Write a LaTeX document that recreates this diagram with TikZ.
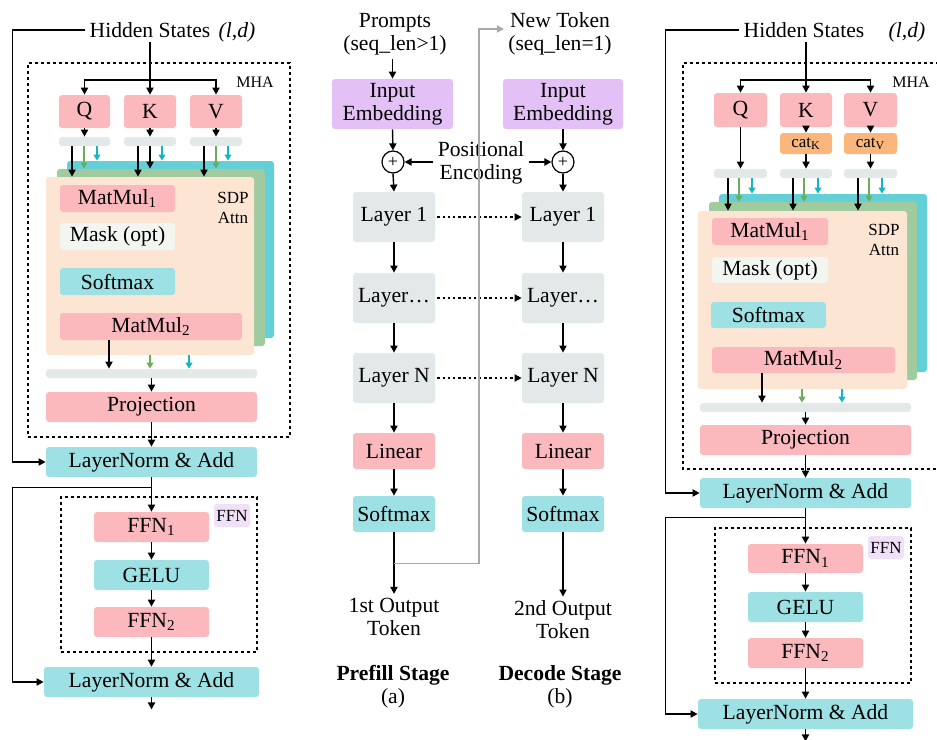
\documentclass[tikz,border=0pt]{standalone}
\usepackage{fontspec}
\setmainfont{Liberation Serif}
\usetikzlibrary{arrows.meta,calc}

\definecolor{cpink}{HTML}{FBB9BE}
\definecolor{ccyan}{HTML}{9DE1E4}
\definecolor{cgray}{HTML}{E3E9E8}
\definecolor{cpurple}{HTML}{E3C0F5}
\definecolor{cpeach}{HTML}{FDE5D3}
\definecolor{cteal}{HTML}{62D0D6}
\definecolor{cgreen}{HTML}{A0CB9E}
\definecolor{corange}{HTML}{FBB77B}
\definecolor{clilac}{HTML}{F0E0F8}
\definecolor{cmask}{HTML}{F2F5F0}
\definecolor{garrow}{HTML}{6AAE5A}
\definecolor{carrow}{HTML}{12B5C4}
\definecolor{fbgray}{HTML}{A9A9A9}

\tikzset{
  % a rectangle given by its two corners (in picture units)
  span/.style n args={4}{at={({(#1+#3)/2},{(#2+#4)/2})},
     minimum width={(#3-#1)*0.5pt}, minimum height={(#4-#2)*0.5pt}},
  bx/.style={rectangle, rounded corners=1.5pt, inner sep=0pt, draw=none, align=center},
  pinkbox/.style={bx, fill=cpink},
  cyanbox/.style={bx, fill=ccyan},
  graybox/.style={bx, fill=cgray},
  purplebox/.style={bx, fill=cpurple},
  maskbox/.style={bx, fill=cmask},
  catbox/.style={bx, fill=corange, font=\fontsize{8.5}{9}\selectfont},
  layerbox/.style={bx, fill=#1},
  dotbox/.style={rectangle, draw, line width=1pt, dash pattern=on 1.6pt off 1.4pt, inner sep=0pt},
  small/.style={font=\fontsize{8}{10}\selectfont, align=center},
  txt/.style={align=center, inner sep=2pt},
  arr/.style={-{Triangle[length=3.5pt,width=3.6pt]}, line width=0.7pt},
  line/.style={line width=0.7pt},
  garr/.style={-{Triangle[length=3pt,width=3.4pt]}, line width=0.6pt, draw=garrow},
  carr/.style={-{Triangle[length=3pt,width=3.4pt]}, line width=0.6pt, draw=carrow},
  dotarr/.style={-{Triangle[length=3.5pt,width=3.6pt]}, line width=0.6pt, dash pattern=on 1.2pt off 1.4pt},
  fbarr/.style={-{Triangle[length=3.5pt,width=3.6pt]}, line width=0.6pt, draw=fbgray},
  plus/.style={circle, draw, line width=0.6pt, fill=white, minimum size=11pt, inner sep=0pt, font=\fontsize{9}{9}\selectfont},
}

\begin{document}
\begin{tikzpicture}[x=0.5pt, y=-0.5pt, font=\fontsize{10.8}{11.5}\selectfont]
\useasboundingbox (0,0) rectangle (937,739);

%% ===================== left block: decoder layer (prefill) =====================
\node[txt] (hs) at (150,30) {Hidden States};
\node[txt] (ld) at (237,32) {\textit{(l,d)}};
\node[dotbox, span={28}{63}{290}{437}] (mha) {};
\node[small] (mhal) at (255,82) {MHA};
\coordinate (br) at (150,80);

\node[pinkbox, span={59}{95}{110}{128}] (q) {Q};
\node[pinkbox, span={124}{95}{176}{128}] (k) {K};
\node[pinkbox, span={190}{95}{242}{128}] (v) {V};
\node[graybox, span={59}{137}{110}{146}] (qb) {};
\node[graybox, span={124}{137}{176}{146}] (kb) {};
\node[graybox, span={190}{137}{242}{146}] (vb) {};

\node[layerbox=cteal, span={67}{161}{274}{338}] (cy) {};
\node[layerbox=cgreen, span={57}{169}{265}{346}] (gr) {};
\node[layerbox=cpeach, span={46}{177}{254}{355}] (pc) {};
\node[small, font=\fontsize{8.5}{10}\selectfont] (sdp) at (233,208) {SDP\\Attn};
\node[pinkbox, span={60}{185}{175}{212}] (mm1) {MatMul\textsubscript{1}};
\node[maskbox, span={60}{223}{175}{250}] (mask) {Mask (opt)};
\node[cyanbox, span={60}{268}{175}{295}] (sm) {Softmax};
\node[pinkbox, span={60}{313}{242}{340}] (mm2) {MatMul\textsubscript{2}};

\node[graybox, span={46}{369}{257}{378}] (ob) {};
\node[pinkbox, span={46}{392}{257}{422}] (proj) {Projection};
\node[cyanbox, span={46}{447}{257}{477}] (ln1) {LayerNorm \& Add};

\node[dotbox, span={61}{497}{257}{652}] (ffnbox) {};
\node[bx, fill=clilac, span={214}{504}{250}{527}, font=\fontsize{8.5}{10}\selectfont] (ffnl) {FFN};
\node[pinkbox, span={94}{512}{209}{542}] (f1) {FFN\textsubscript{1}};
\node[cyanbox, span={94}{560}{209}{590}] (gelu) {GELU};
\node[pinkbox, span={94}{607}{209}{637}] (f2) {FFN\textsubscript{2}};
\node[cyanbox, span={44}{667}{259}{697}] (ln2) {LayerNorm \& Add};

% connectors
\draw[line] (hs.south) -- (br);
\draw[arr] (br) -| (q.north);
\draw[arr] (br) -- (k.north);
\draw[arr] (br) -| (v.north);
\draw[arr] (q.south) -- (qb.north);
\draw[arr] (k.south) -- (kb.north);
\draw[arr] (v.south) -- (vb.north);

\draw[arr]  (qb.south -| 72,0)  -- (pc.north -| 72,0);
\draw[garr] (qb.south -| 84,0)  -- (gr.north -| 84,0);
\draw[carr] (qb.south -| 97,0)  -- (cy.north -| 97,0);
\draw[arr]  (kb.south -| 138,0) -- (pc.north -| 138,0);
\draw[arr]  (kb.south -| 150,0) -- (gr.north -| 150,0);
\draw[carr] (kb.south -| 162,0) -- (cy.north -| 162,0);
\draw[arr]  (vb.south -| 204,0) -- (pc.north -| 204,0);
\draw[garr] (vb.south -| 216,0) -- (gr.north -| 216,0);
\draw[carr] (vb.south -| 228,0) -- (cy.north -| 228,0);

\draw[arr]  (mm2.south -| 109,0) -- (ob.north -| 109,0);
\draw[garr] (pc.south -| 150,0)  -- (ob.north -| 150,0);
\draw[carr] (pc.south -| 189,0)  -- (ob.north -| 189,0);
\draw[arr] (ob.south -| proj.north) -- (proj.north);
\draw[arr] (proj.south) -- (ln1.north);
\draw[arr] (ln1.south) -- (f1.north);
\draw[arr] (f1.south) -- (gelu.north);
\draw[arr] (gelu.south) -- (f2.north);
\draw[arr] (f2.south) -- (ln2.north);
\draw[arr] (ln2.south) -- ++(0,12);
\draw[arr] (hs.west) -| ($(ln1.west)+(-33,0)$) -- (ln1.west);
\draw[arr] ($(ln1.south)+(0,10)$) -| ($(ln2.west)+(-31,0)$) -- (ln2.west);

%% ===================== middle: prefill and decode stages =====================
\node[txt] (pr) at (395,34) {Prompts\\(seq\_len>1)};
\node[txt] (nt) at (560,34) {New Token\\(seq\_len=1)};
\node[purplebox, span={332}{79}{453}{129}] (emb1) {Input\\Embedding};
\node[purplebox, span={503}{79}{623}{129}] (emb2) {Input\\Embedding};
\node[plus] (pe1) at (393,162) {+};
\node[plus] (pe2) at (563,162) {+};
\node[txt] (pos) at (481,163) {Positional\\Encoding};

\node[graybox, span={353}{192}{435}{242}] (l1a) {Layer 1};
\node[graybox, span={353}{273}{435}{323}] (lda) {Layer\dots};
\node[graybox, span={353}{353}{435}{403}] (lna) {Layer N};
\node[pinkbox, span={353}{433}{435}{469}] (lia) {Linear};
\node[cyanbox, span={353}{496}{435}{532}] (sxa) {Softmax};
\node[graybox, span={522}{192}{604}{242}] (l1b) {Layer 1};
\node[graybox, span={522}{273}{604}{323}] (ldb) {Layer\dots};
\node[graybox, span={522}{353}{604}{403}] (lnb) {Layer N};
\node[pinkbox, span={522}{433}{604}{469}] (lib) {Linear};
\node[cyanbox, span={522}{496}{604}{532}] (sxb) {Softmax};

\node[txt] (o1) at (394,617) {1st Output\\Token};
\node[txt] (o2) at (563,620) {2nd Output\\Token};
\node[txt] (sa) at (393,687) {\textbf{Prefill Stage}\\(a)};
\node[txt] (sb) at (560,687) {\textbf{Decode Stage}\\(b)};

\draw[arr] (pr.south -| emb1.north) -- (emb1.north);
\draw[arr] (emb1.south) -- (pe1.north);
\draw[arr] (emb2.south) -- (pe2.north);
\draw[arr] (pe1.south) -- (l1a.north);
\draw[arr] (pe2.south) -- (l1b.north);
\draw[arr] (pos.west |- pe1.east) -- (pe1.east);
\draw[arr] (pos.east |- pe2.west) -- (pe2.west);
\draw[arr] (l1a.south) -- (lda.north);
\draw[arr] (lda.south) -- (lna.north);
\draw[arr] (lna.south) -- (lia.north);
\draw[arr] (lia.south) -- (sxa.north);
\draw[arr] (sxa.south) -- (o1.north);
\draw[arr] (l1b.south) -- (ldb.north);
\draw[arr] (ldb.south) -- (lnb.north);
\draw[arr] (lnb.south) -- (lib.north);
\draw[arr] (lib.south) -- (sxb.north);
\draw[arr] (sxb.south) -- (o2.north);
\draw[dotarr] ([xshift=1pt]l1a.east) -- (l1b.west);
\draw[dotarr] ([xshift=1pt]lda.east) -- (ldb.west);
\draw[dotarr] ([xshift=1pt]lna.east) -- (lnb.west);
\coordinate (fb) at ($(sxa.south)+(0,31)$);
\draw[fbarr] (fb) -| ($(nt.west)+(-25,-5)$) -- ($(nt.west)+(0,-5)$);

%% ===================== right block: decoder layer with KV cache =====================
\node[txt] (hs2) at (804,30) {Hidden States};
\node[txt] (ld2) at (907,32) {\textit{(l,d)}};
\draw[line width=1pt, dash pattern=on 1.6pt off 1.4pt] (945,63) -- (683,63) -- (683,469) -- (945,469);
\node[small] (mhal2) at (911,82) {MHA};
\coordinate (br2) at (806,80);

\node[pinkbox, span={714}{93}{767}{127}] (q2) {Q};
\node[pinkbox, span={780}{93}{832}{127}] (k2) {K};
\node[pinkbox, span={844}{93}{897}{127}] (v2) {V};
\node[catbox, span={780}{133}{832}{154}] (ck) {cat\textsubscript{K}};
\node[catbox, span={844}{133}{897}{154}] (cv) {cat\textsubscript{V}};
\node[graybox, span={714}{169}{767}{178}] (qb2) {};
\node[graybox, span={780}{169}{832}{178}] (kb2) {};
\node[graybox, span={844}{169}{897}{178}] (vb2) {};

\node[layerbox=cteal, span={719}{194}{927}{372}] (cy2) {};
\node[layerbox=cgreen, span={709}{202}{917}{380}] (gr2) {};
\node[layerbox=cpeach, span={698}{211}{907}{389}] (pc2) {};
\node[small, font=\fontsize{8.5}{10}\selectfont] (sdp2) at (884,240) {SDP\\Attn};
\node[pinkbox, span={712}{218}{828}{245}] (mm1b) {MatMul\textsubscript{1}};
\node[maskbox, span={712}{257}{828}{283}] (mask2) {Mask (opt)};
\node[cyanbox, span={711}{302}{826}{328}] (sm2) {Softmax};
\node[pinkbox, span={712}{347}{895}{373}] (mm2b) {MatMul\textsubscript{2}};

\node[graybox, span={700}{403}{911}{412}] (ob2) {};
\node[pinkbox, span={700}{425}{911}{455}] (proj2) {Projection};
\node[cyanbox, span={700}{478}{911}{508}] (ln1b) {LayerNorm \& Add};

\node[dotbox, span={715}{528}{911}{683}] (ffnbox2) {};
\node[bx, fill=clilac, span={868}{536}{904}{559}, font=\fontsize{8.5}{10}\selectfont] (ffnl2) {FFN};
\node[pinkbox, span={748}{544}{863}{573}] (f1b) {FFN\textsubscript{1}};
\node[cyanbox, span={748}{592}{863}{622}] (gelu2) {GELU};
\node[pinkbox, span={748}{638}{863}{668}] (f2b) {FFN\textsubscript{2}};
\node[cyanbox, span={698}{699}{913}{729}] (ln2b) {LayerNorm \& Add};

% connectors
\draw[line] (hs2.south -| br2) -- (br2);
\draw[arr] (br2) -| (q2.north);
\draw[arr] (br2) -- (k2.north);
\draw[arr] (br2) -| (v2.north);
\draw[arr] (q2.south) -- (qb2.north);
\draw[arr] (k2.south) -- (ck.north);
\draw[arr] (v2.south) -- (cv.north);
\draw[arr] (ck.south) -- (kb2.north);
\draw[arr] (cv.south) -- (vb2.north);

\draw[arr]  (qb2.south -| 728,0) -- (pc2.north -| 728,0);
\draw[garr] (qb2.south -| 739,0) -- (gr2.north -| 739,0);
\draw[carr] (qb2.south -| 752,0) -- (cy2.north -| 752,0);
\draw[arr]  (kb2.south -| 793,0) -- (pc2.north -| 793,0);
\draw[garr] (kb2.south -| 804,0) -- (gr2.north -| 804,0);
\draw[carr] (kb2.south -| 818,0) -- (cy2.north -| 818,0);
\draw[arr]  (vb2.south -| 858,0) -- (pc2.north -| 858,0);
\draw[garr] (vb2.south -| 869,0) -- (gr2.north -| 869,0);
\draw[carr] (vb2.south -| 882,0) -- (cy2.north -| 882,0);

\draw[arr]  (mm2b.south -| 762,0) -- (ob2.north -| 762,0);
\draw[garr] (pc2.south -| 802,0)  -- (ob2.north -| 802,0);
\draw[carr] (pc2.south -| 842,0)  -- (ob2.north -| 842,0);
\draw[arr] (ob2.south -| proj2.north) -- (proj2.north);
\draw[arr] (proj2.south) -- (ln1b.north);
\draw[arr] (ln1b.south) -- (f1b.north);
\draw[arr] (f1b.south) -- (gelu2.north);
\draw[arr] (gelu2.south) -- (f2b.north);
\draw[arr] (f2b.south) -- (ln2b.north);
\draw[arr] (ln2b.south) -- ++(0,12);
\draw[arr] (hs2.west) -| ($(ln1b.west)+(-34,0)$) -- (ln1b.west);
\draw[arr] ($(ln1b.south)+(0,9)$) -| ($(ln2b.west)+(-32,0)$) -- (ln2b.west);
\end{tikzpicture}
\end{document}
